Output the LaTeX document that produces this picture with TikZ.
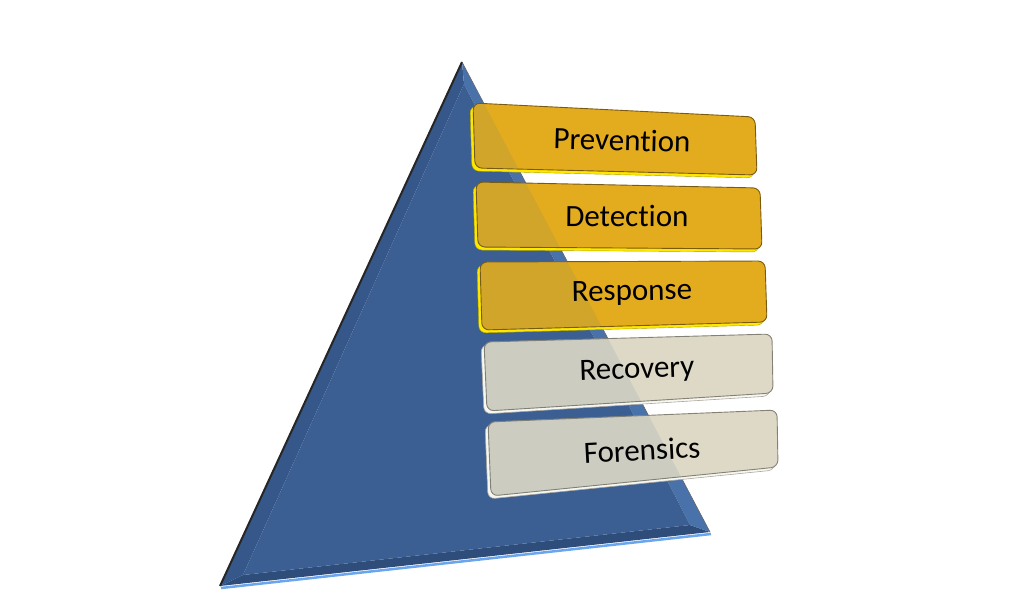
\documentclass[tikz,border=0pt]{standalone}
\usepackage{fontspec}
\setmainfont{Carlito}[Ligatures=NoCommon, RawFeature={-calt;-dlig}]
\usepackage{xcolor}
\definecolor{pyrBlue}{HTML}{3C5F93}
\definecolor{pyrLeft}{HTML}{35578A}
\definecolor{pyrBottom}{HTML}{2F4D7A}
\definecolor{pyrRight}{HTML}{4A72AA}
\definecolor{pyrHigh}{HTML}{6AA6EE}
\definecolor{goldFill}{HTML}{E3AC1F}
\definecolor{goldRim}{HTML}{FFE800}
\definecolor{goldLine}{HTML}{7A5A10}
\definecolor{greyFill}{HTML}{DDD9C6}
\definecolor{greyRim}{HTML}{F7F7F2}
\definecolor{greyLine}{HTML}{858275}
\tikzset{
  goldbox/.style={fill=goldFill, draw=goldLine, line width=0.9pt, rounded corners=7pt},
  goldrim/.style={fill=goldRim, draw=goldRim!70!black, line width=0.4pt, rounded corners=7pt},
  greybox/.style={fill=greyFill, draw=greyLine, line width=0.9pt, rounded corners=7pt},
  greyrim/.style={fill=greyRim, draw=greyLine!70, line width=0.6pt, rounded corners=7pt},
  seethrough/.style={fill=pyrBlue, fill opacity=0.1},
  stage/.style={font={\fontsize{31}{37}\selectfont}, text=black, inner sep=0pt}
}
\begin{document}
\begin{tikzpicture}[x=1pt,y=-1pt]
\useasboundingbox (0,0) rectangle (1024,605);
% pyramid with bevelled edges
\fill[pyrLeft] (462,62) -- (220,586) -- (243,575) -- (464,84) -- cycle;
\fill[pyrBottom] (220,586) -- (710,532) -- (690,525) -- (243,575) -- cycle;
\fill[pyrRight] (462,62) -- (710,532) -- (690,525) -- (464,84) -- cycle;
\fill[pyrBlue] (464,84) -- (243,575) -- (690,525) -- cycle;
\draw[black!85, line width=2pt] (462,62) -- (220,586);
\draw[pyrHigh, line width=2.5pt] (221,588) -- (711,534);
\draw[black!60, line width=0.6pt] (462,62) -- (710,532);
% stages
\draw[goldrim] (470,106) -- (752,120) -- (754,178) -- (472,171) -- cycle;
\draw[goldbox] (473,103) -- (755,117) -- (757,175) -- (475,168) -- cycle;
\begin{scope}
\clip[rounded corners=7pt] (473,103) -- (755,117) -- (757,175) -- (475,168) -- cycle;
\fill[seethrough] (462,62) -- (220,586) -- (710,532) -- cycle;
\end{scope}
\node[stage, rotate=-1.5] (prevention) at (622,140) {Prevention};
\draw[goldrim] (473,185) -- (757,191) -- (759,252) -- (475,250) -- cycle;
\draw[goldbox] (476,182) -- (760,188) -- (762,249) -- (478,247) -- cycle;
\begin{scope}
\clip[rounded corners=7pt] (476,182) -- (760,188) -- (762,249) -- (478,247) -- cycle;
\fill[seethrough] (462,62) -- (220,586) -- (710,532) -- cycle;
\end{scope}
\node[stage, rotate=-0.5] (detection) at (627,216) {Detection};
\draw[goldrim] (477,265) -- (762,264) -- (764,325) -- (479,333) -- cycle;
\draw[goldbox] (480,262) -- (765,261) -- (767,322) -- (482,330) -- cycle;
\begin{scope}
\clip[rounded corners=7pt] (480,262) -- (765,261) -- (767,322) -- (482,330) -- cycle;
\fill[seethrough] (462,62) -- (220,586) -- (710,532) -- cycle;
\end{scope}
\node[stage, rotate=0.8] (response) at (632,293) {Response};
\draw[greyrim] (481,345) -- (769,337) -- (770,396) -- (484,414) -- cycle;
\draw[greybox] (484,342) -- (772,334) -- (773,393) -- (487,411) -- cycle;
\begin{scope}
\clip[rounded corners=7pt] (484,342) -- (772,334) -- (773,393) -- (487,411) -- cycle;
\fill[seethrough] (462,62) -- (220,586) -- (710,532) -- cycle;
\end{scope}
\node[stage, rotate=2] (recovery) at (637,371) {Recovery};
\draw[greyrim] (485,425) -- (774,413) -- (775,470) -- (488,499) -- cycle;
\draw[greybox] (488,422) -- (777,410) -- (778,467) -- (491,496) -- cycle;
\begin{scope}
\clip[rounded corners=7pt] (488,422) -- (777,410) -- (778,467) -- (491,496) -- cycle;
\fill[seethrough] (462,62) -- (220,586) -- (710,532) -- cycle;
\end{scope}
\node[stage, rotate=3] (forensics) at (642,450) {Forensics};
\end{tikzpicture}
\end{document}
